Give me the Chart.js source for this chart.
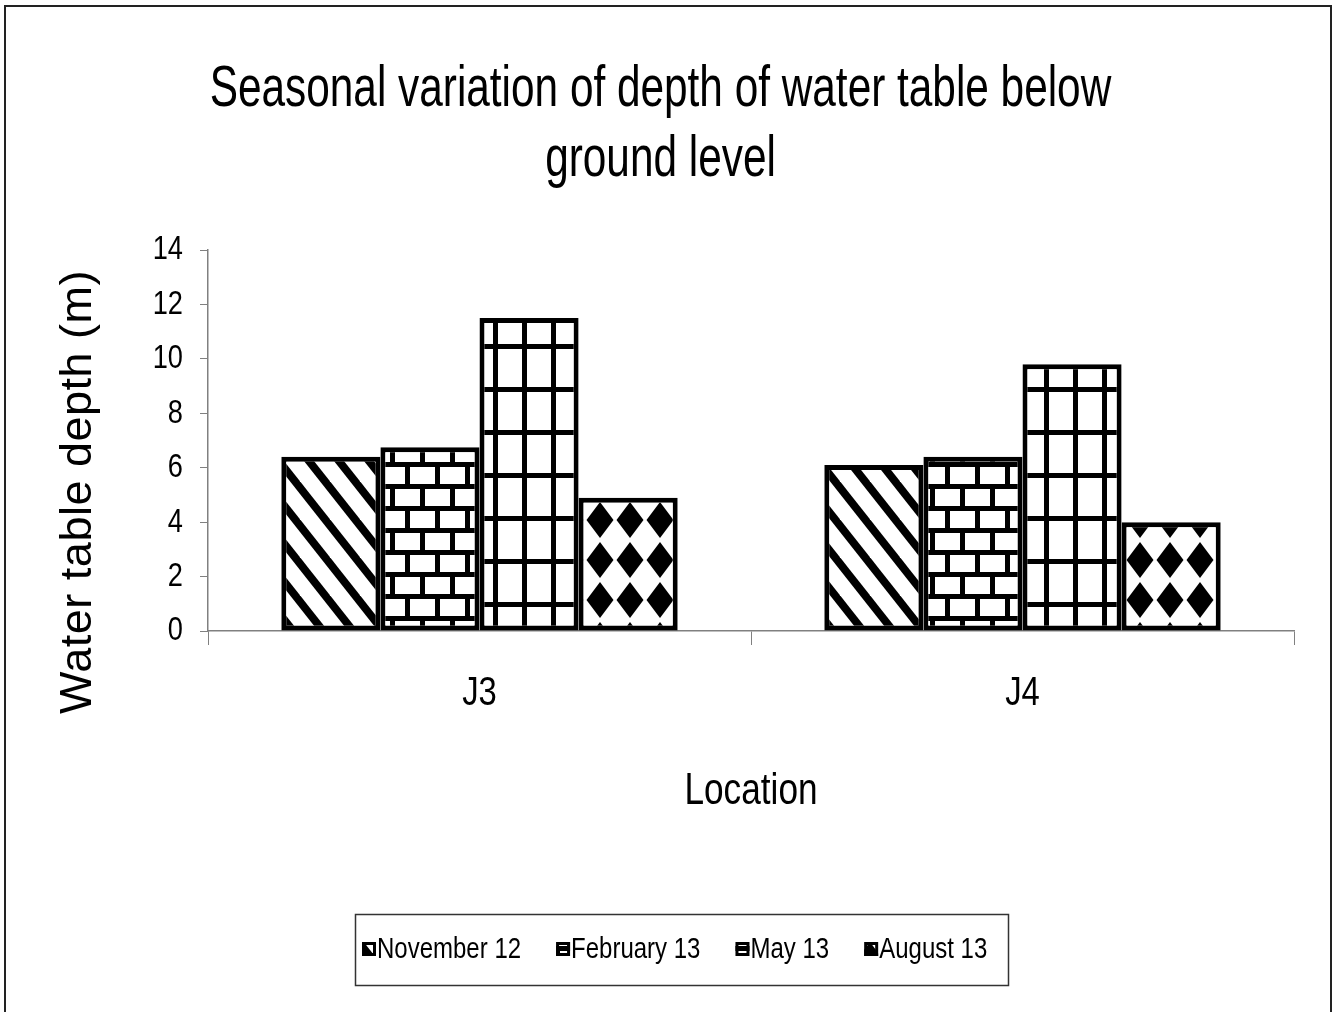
<!DOCTYPE html>
<html lang="en">
<head>
    <meta charset="UTF-8">
    <title>Seasonal variation of depth of water table</title>
    <script src="https://cdn.jsdelivr.net/npm/chart.js"></script>
    <style>
        body { margin: 0; background: #fff; }
        #wrap { width: 1336px; height: 1012px; position: relative; }
    </style>
</head>
<body>
    <div id="wrap"><canvas id="myChart"></canvas></div>
    <script>
    // data
    const locations = ['J3', 'J4'];
    const seriesNames = ['November 12', 'February 13', 'May 13', 'August 13'];
    const nov12 = [6.4, 6.1];
    const feb13 = [6.75, 6.4];
    const may13 = [11.5, 9.8];
    const aug13 = [4.9, 4.0];
    const yMin = 0, yMax = 14, yStep = 2;

    // no narrow face installed, so horizontal text is squeezed to look like Arial Narrow
    const sans = '"Liberation Sans", Arial, sans-serif';
    const squeeze = 0.8;
    const titleSqueeze = 0.73;

    function makePattern(w, h, draw) {
        const c = document.createElement('canvas');
        c.width = w; c.height = h;
        const g = c.getContext('2d');
        g.fillStyle = '#fff';
        g.fillRect(0, 0, w, h);
        g.fillStyle = '#000';
        draw(g, w, h);
        return document.getElementById('myChart').getContext('2d').createPattern(c, 'repeat');
    }

    // diagonal stripes
    const stripes = makePattern(30, 38, (g, w, h) => {
        [-w, 0, w].forEach(x0 => {
            g.beginPath();
            g.moveTo(x0, 0);
            g.lineTo(x0 + 10, 0);
            g.lineTo(x0 + 10 + w, h);
            g.lineTo(x0 + w, h);
            g.closePath();
            g.fill();
        });
    });
    // brick
    const brick = makePattern(30, 44, (g, w, h) => {
        g.fillRect(0, 0, w, 5);
        g.fillRect(0, 22, w, 5);
        g.fillRect(0, 0, 5, 22);
        g.fillRect(15, 22, 5, 22);
    });
    // large grid
    const grid = makePattern(29, 43, (g, w, h) => {
        g.fillRect(0, 0, w, 5);
        g.fillRect(0, 0, 5, h);
    });
    // harlequin diamonds
    const diamonds = makePattern(30, 40, (g, w, h) => {
        [[0, 0], [w, 0], [0, h], [w, h]].forEach(([cx, cy]) => {
            g.beginPath();
            g.moveTo(cx, cy - 18);
            g.lineTo(cx + 13.5, cy);
            g.lineTo(cx, cy + 18);
            g.lineTo(cx - 13.5, cy);
            g.closePath();
            g.fill();
        });
    });

    const seriesData = [nov12, feb13, may13, aug13];
    const fills = [stripes, brick, grid, diamonds];

    const datasets = seriesNames.map((name, i) => ({
        label: name,
        data: seriesData[i],
        backgroundColor: fills[i],
        borderColor: '#000',
        borderWidth: 5,
        borderSkipped: false
    }));

    const narrowText = {
        id: 'narrowText',
        beforeInit(chart) {
            const c = chart.ctx;
            const plain = c.fillText.bind(c);
            c.plainFill = plain;
            c.fillText = function (text, x, y, maxWidth) {
                const size = parseFloat(/([\d.]+)px/.exec(this.font)[1]);
                const k = size >= 55 ? titleSqueeze : squeeze;
                this.save();
                this.translate(x, y);
                this.scale(k, 1);
                if (maxWidth === undefined) plain(text, 0, 0);
                else plain(text, 0, 0, maxWidth / k);
                this.restore();
            };
        }
    };

    // frame, rotated y title and boxed legend
    const extras = {
        id: 'extras',
        afterDraw(chart) {
            const ctx = chart.ctx;
            ctx.save();
            ctx.strokeStyle = '#222';
            ctx.lineWidth = 2;
            ctx.beginPath();
            ctx.moveTo(5, 1012);
            ctx.lineTo(5, 6);
            ctx.lineTo(1331, 6);
            ctx.lineTo(1331, 1012);
            ctx.stroke();

            // y axis title (regular width)
            ctx.save();
            ctx.translate(79, 492);
            ctx.rotate(-Math.PI / 2);
            ctx.font = '45px ' + sans;
            ctx.letterSpacing = '0.5px';
            ctx.fillStyle = '#000';
            ctx.textAlign = 'center';
            ctx.textBaseline = 'middle';
            ctx.plainFill('Water table depth (m)', 0, 0);
            ctx.restore();

            // legend
            ctx.strokeStyle = '#333';
            ctx.lineWidth = 1.5;
            ctx.strokeRect(355.5, 914.5, 653, 71);
            ctx.font = '30px ' + sans;
            ctx.textBaseline = 'middle';
            ctx.textAlign = 'left';
            let x = 362;
            chart.data.datasets.forEach(ds => {
                ctx.fillStyle = ds.backgroundColor;
                ctx.fillRect(x, 942, 14, 14);
                ctx.strokeStyle = '#000';
                ctx.lineWidth = 3;
                ctx.strokeRect(x + 1.5, 943.5, 11, 11);
                ctx.fillStyle = '#000';
                ctx.fillText(ds.label, x + 15, 950);
                x += 15 + ctx.measureText(ds.label).width * squeeze + 35;
            });
            ctx.restore();
        }
    };

    const ctx = document.getElementById('myChart').getContext('2d');
    const myChart = new Chart(ctx, {
        type: 'bar',
        data: { labels: locations, datasets: datasets },
        options: {
            responsive: true,
            maintainAspectRatio: false,
            animation: false,
            layout: { padding: { top: 55, left: 27, right: 42, bottom: 194 } },
            datasets: { bar: { categoryPercentage: 0.73, barPercentage: 1 } },
            plugins: {
                legend: { display: false },
                tooltip: { enabled: false },
                title: {
                    display: true,
                    text: ['Seasonal variation of depth of water table below', 'ground level'],
                    color: '#000',
                    font: { family: sans, size: 58, weight: 'normal', lineHeight: 1.207 },
                    padding: { top: 0, bottom: 55 }
                }
            },
            scales: {
                x: {
                    grid: { offset: true, drawOnChartArea: false, drawTicks: true, tickLength: 14, color: '#808080' },
                    border: { color: '#808080', width: 1.5 },
                    ticks: { color: '#000', padding: 24, font: { family: sans, size: 41, lineHeight: 1.2 } },
                    title: {
                        display: true, text: 'Location', color: '#000',
                        padding: { top: 0, bottom: 0 },
                        font: { family: sans, size: 44, lineHeight: 1.2 }
                    },
                    afterFit(scale) { scale.height = 187; }
                },
                y: {
                    min: yMin, max: yMax,
                    grid: { drawOnChartArea: false, drawTicks: true, tickLength: 8, color: '#808080' },
                    border: { color: '#808080', width: 1.5 },
                    ticks: { stepSize: yStep, color: '#000', padding: 17, font: { family: sans, size: 34 } },
                    afterFit(scale) { scale.width = 181; }
                }
            }
        },
        plugins: [narrowText, extras]
    });
    </script>
</body>
</html>
